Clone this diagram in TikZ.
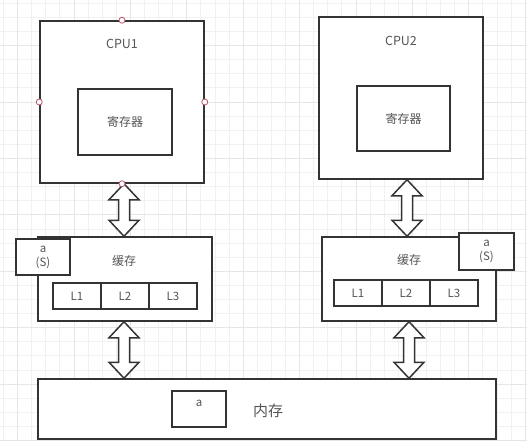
\documentclass[tikz,border=0pt]{standalone}
\usepackage{fontspec}
\setmainfont{Noto Sans CJK SC}
\usetikzlibrary{calc}
\definecolor{gridminor}{HTML}{F1F1F1}
\definecolor{gridmajor}{HTML}{E6E6E6}
\definecolor{edge}{HTML}{333333}
\definecolor{txt}{HTML}{555555}
\definecolor{handle}{HTML}{B85468}
\tikzset{
  box/.style={draw=edge, line width=1.5pt, fill=white, inner sep=0pt, rectangle},
  lbl/.style={text=txt, inner sep=0pt, font=\fontsize{11.5}{13}\selectfont},
  hdl/.style={draw=handle, fill=white, line width=0.8pt, circle, inner sep=0pt, minimum size=6pt},
  blockarrow/.style={draw=edge, line width=1.5pt, fill=white, line join=miter},
  minorline/.style={draw=gridminor, line width=0.8pt},
  majorline/.style={draw=gridmajor, line width=0.8pt}
}
\newcommand{\dblarrow}[3]{% x, top node anchor, bottom node anchor
  \path let \p1=(#2), \p2=(#3) in
    [blockarrow] (#1,\y1) -- (#1+15,\y1-16) -- (#1+5.5,\y1-16) -- (#1+5.5,\y2+16)
    -- (#1+15,\y2+16) -- (#1,\y2) -- (#1-15,\y2+16) -- (#1-5.5,\y2+16)
    -- (#1-5.5,\y1-16) -- (#1-15,\y1-16) -- cycle;
}
\begin{document}
\begin{tikzpicture}[x=1pt,y=-1pt]
\useasboundingbox (0,0) rectangle (527,441);
\fill[white] (0,0) rectangle (527,441);
% grid
\foreach \i in {0,...,37} {\draw[minorline] (3.4+14.1*\i,0) -- (3.4+14.1*\i,441);}
\foreach \j in {0,...,31} {\draw[minorline] (0,3.3+14.1*\j) -- (527,3.3+14.1*\j);}
\foreach \i in {0,...,9} {\draw[majorline] (17.5+56.4*\i,0) -- (17.5+56.4*\i,441);}
\foreach \j in {0,...,8} {\draw[majorline] (0,45.6+56.4*\j-56.4) -- (527,45.6+56.4*\j-56.4);}

% CPU1
\node[box, minimum width=164pt, minimum height=162pt] (cpu1) at (122,102) {};
\node[lbl, font=\fontsize{12.5}{14}\selectfont] (cpu1t) at (122,44) {CPU1};
\node[box, minimum width=94pt, minimum height=66pt] (reg1) at (125,122) {};
\node[lbl, font=\fontsize{12}{14}\selectfont] (reg1t) at (reg1) {寄存器};

% CPU2
\node[box, minimum width=164pt, minimum height=162pt] (cpu2) at (401,98) {};
\node[lbl, font=\fontsize{12.5}{14}\selectfont] (cpu2t) at (401,41) {CPU2};
\node[box, minimum width=93pt, minimum height=65pt] (reg2) at (403.5,118.5) {};
\node[lbl, font=\fontsize{12}{14}\selectfont] (reg2t) at (reg2) {寄存器};

% Cache 1
\node[box, minimum width=174pt, minimum height=84pt] (c1) at (125,279) {};
\node[lbl, font=\fontsize{12}{14}\selectfont] (c1t) at (124,261) {缓存};
\node[box, minimum width=48pt, minimum height=26pt] (c1l1) at (77,296) {};
\node[box, minimum width=48pt, minimum height=26pt] (c1l2) at (125,296) {};
\node[box, minimum width=48pt, minimum height=26pt] (c1l3) at (173,296) {};
\node[lbl] (c1l1t) at (c1l1) {L1};
\node[lbl] (c1l2t) at (c1l2) {L2};
\node[lbl] (c1l3t) at (c1l3) {L3};
\node[box, minimum width=54pt, minimum height=36pt, align=center, text=txt, font=\fontsize{11.5}{14}\selectfont] (c1a) at (43,257) {a\\(S)};

% Cache 2
\node[box, minimum width=174pt, minimum height=84pt] (c2) at (409,279) {};
\node[lbl, font=\fontsize{12}{14}\selectfont] (c2t) at (409,260) {缓存};
\node[box, minimum width=48pt, minimum height=26pt] (c2l1) at (358,293) {};
\node[box, minimum width=48pt, minimum height=26pt] (c2l2) at (406,293) {};
\node[box, minimum width=48pt, minimum height=26pt] (c2l3) at (454,293) {};
\node[lbl] (c2l1t) at (c2l1) {L1};
\node[lbl] (c2l2t) at (c2l2) {L2};
\node[lbl] (c2l3t) at (c2l3) {L3};
\node[box, minimum width=55pt, minimum height=37pt, align=center, text=txt, font=\fontsize{11.5}{14}\selectfont] (c2a) at (486.5,251.5) {a\\(S)};

% Memory
\node[box, minimum width=458pt, minimum height=60pt] (mem) at (267,409) {};
\node[box, minimum width=54pt, minimum height=36pt] (mema) at (199,409) {};
\node[lbl, font=\fontsize{11.5}{13}\selectfont] (memat) at (199,403) {a};
\node[lbl, font=\fontsize{15}{17}\selectfont] (memt) at (268,411) {内存};

% arrows
\dblarrow{124}{cpu1.south}{c1.north}
\dblarrow{124}{c1.south}{mem.north}
\dblarrow{407}{cpu2.south}{c2.north}
\dblarrow{409}{c2.south}{mem.north}

% selection handles
\node[hdl] (h1) at (cpu1.north) {};
\node[hdl] (h2) at (cpu1.west) {};
\node[hdl] (h3) at (cpu1.east) {};
\node[hdl] (h4) at (cpu1.south) {};
\end{tikzpicture}
\end{document}
